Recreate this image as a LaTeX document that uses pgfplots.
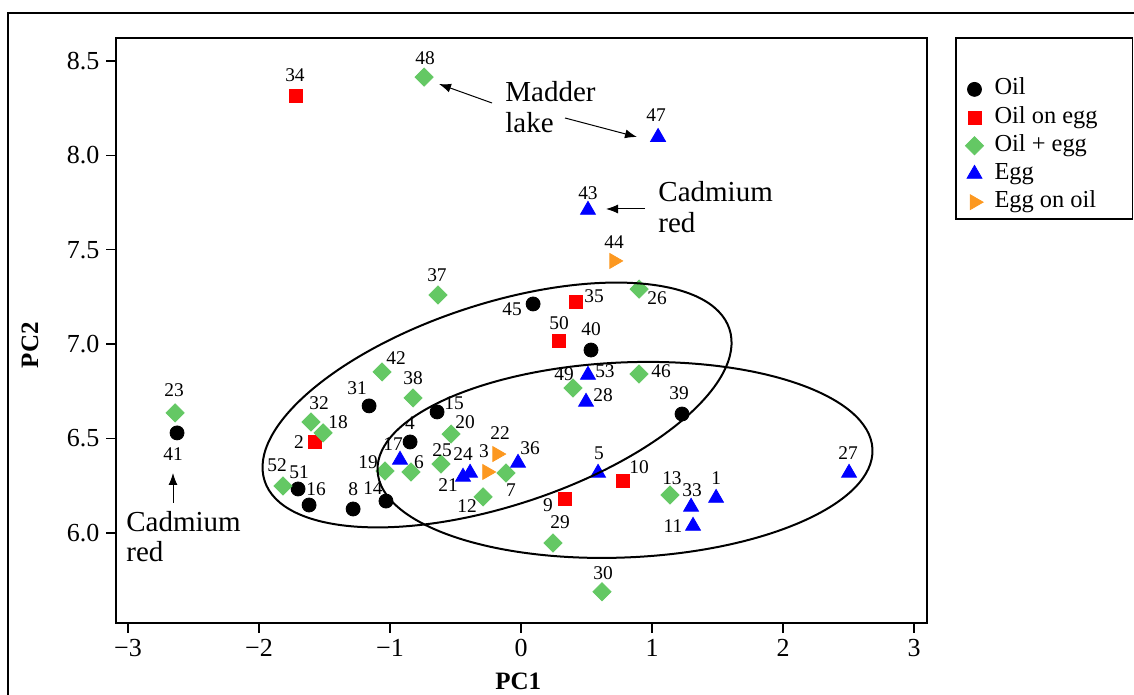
\documentclass[border=0pt]{standalone}
\usepackage{fontspec}
\setmainfont{Liberation Serif}
\usepackage{pgfplots}
\usepackage{pgfplotstable}
\pgfplotsset{compat=1.18}
\usetikzlibrary{arrows.meta}
\definecolor{cgreen}{RGB}{100,200,100}
\definecolor{corange}{RGB}{252,152,32}

\pgfplotstableread{
x y lab dx dy
-2.626 6.530 41 -2 -10.5
-1.160 6.673 31 -6 9
-0.641 6.641 15 8.5 4.5
-0.847 6.482 4 0 9.5
-1.702 6.233 51 0.5 8.5
-1.618 6.148 16 3.5 8
-1.282 6.127 8 0 10
-1.031 6.169 14 -6.5 6.5
0.092 7.213 45 -10.5 -2.5
0.534 6.969 40 0 10.5
1.229 6.630 39 -1.5 10.5
}\oil

\pgfplotstableread{
x y lab dx dy
-1.718 8.315 34 -0.5 10.5
-1.573 6.482 2 -8 0
0.420 7.224 35 9 3
0.290 7.017 50 0 9
0.336 6.180 9 -8.5 -3
0.779 6.275 10 8 7
}\oilonegg

\pgfplotstableread{
x y lab dx dy
-0.740 8.415 48 0.5 9.5
-0.634 7.261 37 -0.5 10
-2.641 6.636 23 -0.5 11.5
-1.061 6.853 42 7 7
-0.824 6.715 38 0 10
-1.603 6.588 32 4 9.5
-1.511 6.530 18 7.5 5.5
-0.534 6.524 20 7 6
-1.038 6.328 19 -8.5 4.5
-0.840 6.323 6 4 5
-0.611 6.365 25 0.5 7
-0.290 6.191 12 -8 -4.5
-0.115 6.318 7 2.5 -8.5
-1.817 6.249 52 -3 10.5
0.901 7.292 26 9 -4.5
0.397 6.768 49 -4.5 7
0.901 6.842 46 11 1.5
1.137 6.201 13 1 8.5
0.244 5.947 29 3.5 10.5
0.618 5.688 30 0.5 9.5
}\oilpegg

\pgfplotstableread{
x y lab dx dy
1.046 8.097 47 -1 11
0.511 7.711 43 0 8.5
-0.924 6.387 17 -3.5 8
-0.389 6.318 24 -3.5 9.5
-0.443 6.297 21 -7.5 -4
-0.023 6.371 36 6 7.5
0.511 6.837 53 8.5 2
0.496 6.694 28 8.5 3.5
0.588 6.318 5 0.5 10
1.298 6.138 33 0.5 8.5
1.489 6.185 1 0 10
1.313 6.037 11 -10 0
2.504 6.318 27 -0.5 10
}\egg

\pgfplotstableread{
x y lab dx dy
0.710 7.441 44 0 9.5
-0.183 6.418 22 1.5 10.5
-0.260 6.323 3 -1.5 10.5
}\eggonoil

\begin{document}
\begin{tikzpicture}
\begin{axis}[
  at={(0,0)}, anchor=south west,
  scale only axis, width=405.5pt, height=292.5pt,
  xmin=-3.092, xmax=3.099, ymin=5.523, ymax=8.622,
  xtick={-3,-2,-1,0,1,2,3}, xticklabels={−3,−2,−1,0,1,2,3},
  ytick={6,6.5,7,7.5,8,8.5}, yticklabels={6.0,6.5,7.0,7.5,8.0,8.5},
  tick pos=left, tick align=outside, major tick length=4.8pt,
  tick style={line width=0.7pt, black},
  axis line style={line width=0.8pt},
  ticklabel style={font=\fontsize{13}{15}\selectfont},
  xlabel={\textbf{PC1}}, ylabel={\textbf{PC2}},
  xlabel style={at={(axis description cs:0.496,-0.099)}, anchor=center, font=\fontsize{12.5}{14}\selectfont},
  ylabel style={at={(axis description cs:-0.106,0.475)}, anchor=center, font=\fontsize{12.5}{14}\selectfont},
  legend style={at={(axis description cs:1.0469,0.9308)}, anchor=north west, draw=none, fill=none,
    font=\fontsize{12.2}{14}\selectfont, inner sep=0pt, row sep=3.6pt, column sep=5.5pt,
    nodes={inner sep=0pt, text height=8pt, text depth=2.5pt}},
  legend cell align=left,
  legend image code/.code={\draw[mark repeat=2,mark phase=2,#1] plot coordinates {(0pt,0pt)(6pt,0pt)(12pt,0pt)};},
  point meta=explicit symbolic,
  nodes near coords={\pgfplotspointmeta},
  visualization depends on={\thisrow{dx}\as\ldx},
  visualization depends on={\thisrow{dy}\as\ldy},
  nodes near coords style={anchor=center, inner sep=0pt, text=black, font=\fontsize{9.7}{10}\selectfont, xshift=\ldx pt, yshift=\ldy pt},
]
\addplot[only marks, mark=*, black, mark size=3.5pt] table[x=x,y=y,meta=lab] {\oil};
\addlegendentry{Oil}
\addplot[only marks, mark=square*, red, mark size=3.25pt] table[x=x,y=y,meta=lab] {\oilonegg};
\addlegendentry{Oil on egg}
\addplot[only marks, mark=square*, cgreen, mark size=3.2pt, mark options={rotate=45}] table[x=x,y=y,meta=lab] {\oilpegg};
\addlegendentry{Oil + egg}
\addplot[only marks, mark=triangle*, blue, mark size=4.3pt] table[x=x,y=y,meta=lab] {\egg};
\addlegendentry{Egg}
\addplot[only marks, mark=triangle*, corange, mark size=4.3pt, mark options={rotate=-90}] table[x=x,y=y,meta=lab] {\eggonoil};
\addlegendentry{Egg on oil}
\coordinate (E1) at (axis cs:-0.183,6.678);
\coordinate (E2) at (axis cs:0.794,6.387);
\end{axis}
\draw[line width=1pt, rotate around={18.1:(E1)}] (E1) ellipse [x radius=122.25pt, y radius=50.5pt];
\draw[line width=1pt, rotate around={2.5:(E2)}] (E2) ellipse [x radius=123.85pt, y radius=48.75pt];
\begin{scope}[x=0.5pt, y=-0.5pt, shift={(-58pt,311.5pt)}]
  % outer frame
  \draw[line width=0.7pt] (8,695) -- (8,13) -- (1134,13);
  % legend box
  \draw[line width=0.7pt] (956,38) rectangle (1132.5,219);
  % annotations
  \begin{scope}[every node/.style={inner sep=0pt, font=\fontsize{14.5}{17}\selectfont}]
    \node[anchor=base west] at (505,102) {Madder};
    \node[anchor=base west] at (505,133) {lake};
    \node[anchor=base west] at (658,202) {Cadmium};
    \node[anchor=base west] at (658,233) {red};
    \node[anchor=base west] at (126,532) {Cadmium};
    \node[anchor=base west] at (126,562) {red};
  \end{scope}
  \draw[line width=0.5pt, -{Latex[length=6pt,width=4.5pt]}] (492,103) -- (439,84);
  \draw[line width=0.5pt, -{Latex[length=6pt,width=4.5pt]}] (565,118) -- (637,137);
  \draw[line width=0.5pt, -{Latex[length=6pt,width=4.5pt]}] (645,209) -- (606,209);
  \draw[line width=0.5pt, -{Latex[length=6pt,width=4.5pt]}] (173,503) -- (173,473);
  \pgfresetboundingbox
  \path[use as bounding box] (0,0) rectangle (1134,695);
\end{scope}
\end{tikzpicture}
\end{document}
